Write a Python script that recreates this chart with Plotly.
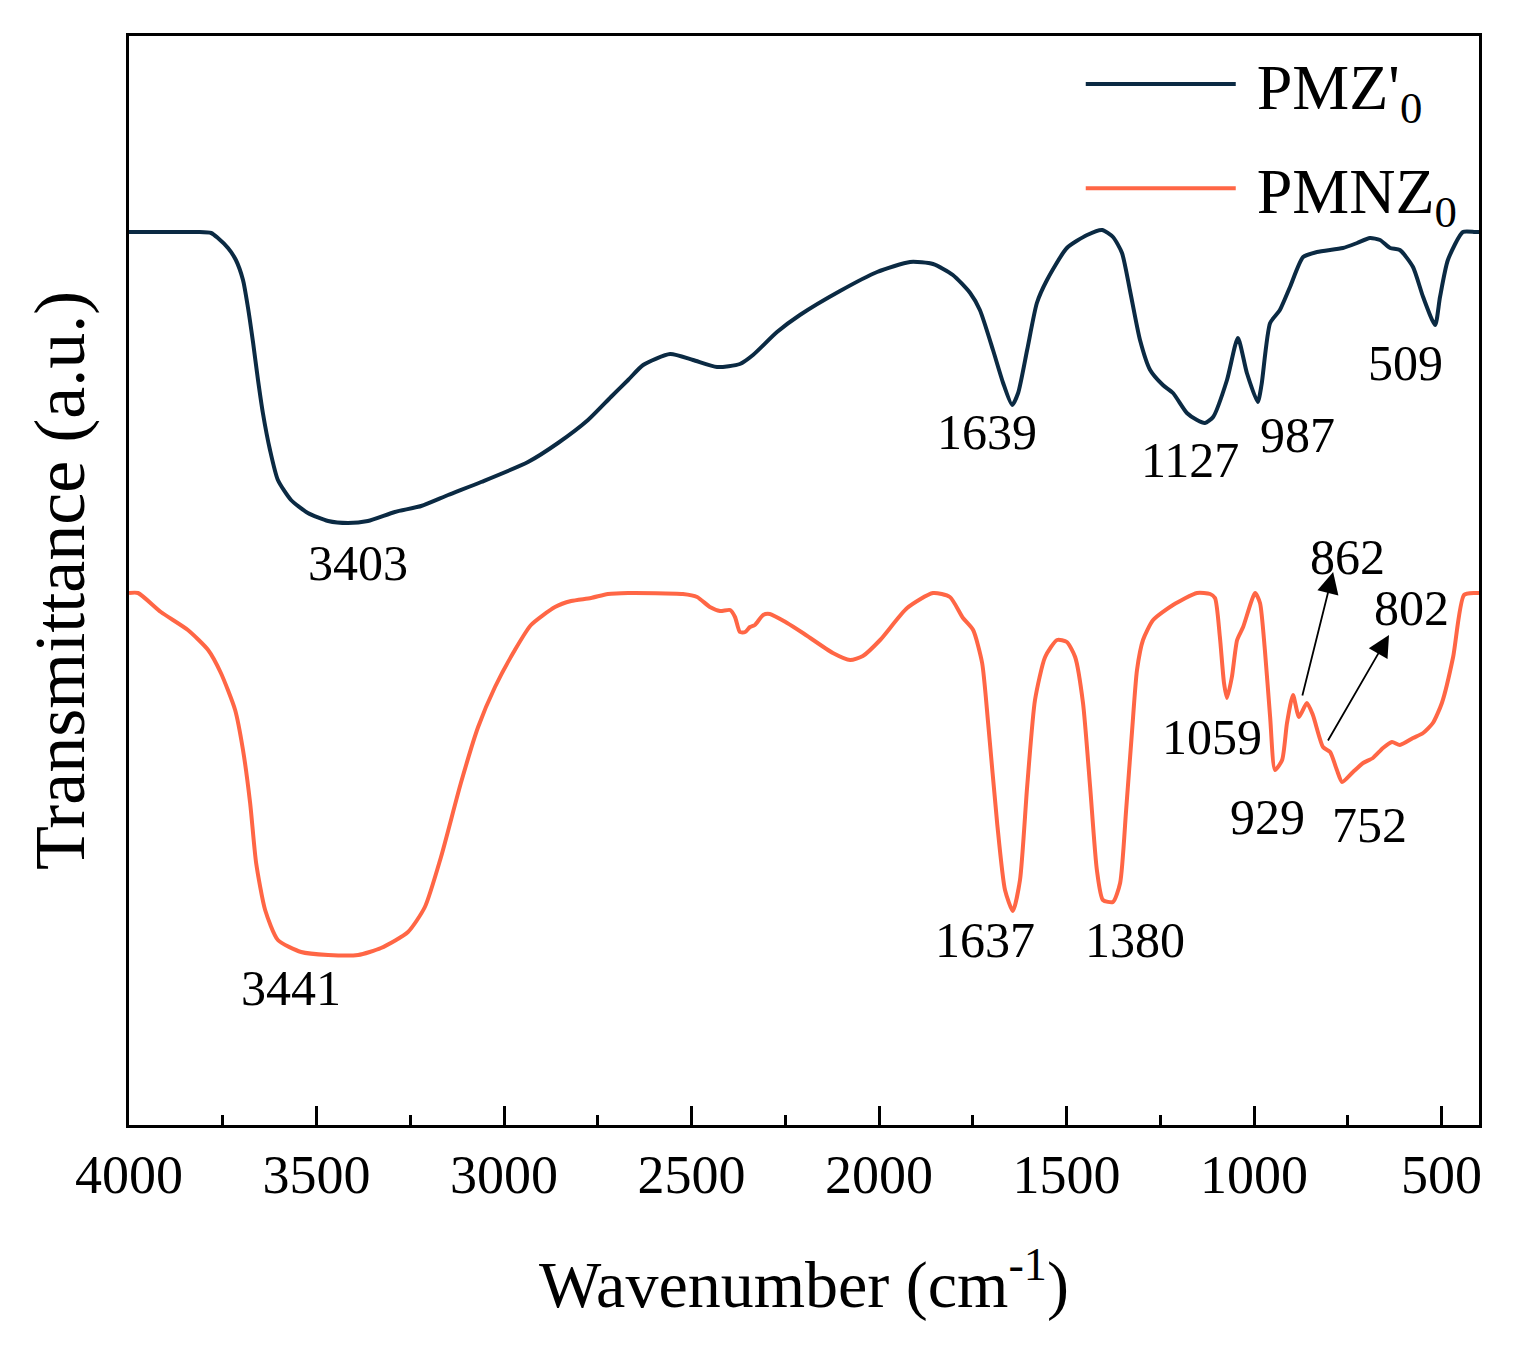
import plotly.graph_objects as go

# FTIR spectra, transmittance in arbitrary units
wn_pmz = [4000, 3936, 3869, 3816, 3781, 3763, 3736, 3715, 3696, 3683, 3669, 3656, 3643, 3624,
          3603, 3568, 3523, 3469, 3416, 3363, 3291, 3221, 3149, 3061, 2936, 2856, 2776, 2715,
          2669, 2629, 2557, 2496, 2432, 2371, 2336, 2272, 2211, 2104, 2005, 1917, 1856, 1803,
          1757, 1731, 1696, 1669, 1645, 1629, 1605, 1579, 1552, 1499, 1445, 1405, 1376, 1352,
          1331, 1304, 1277, 1243, 1216, 1179, 1152, 1131, 1109, 1072, 1043, 1019, 990, 980,
          957, 931, 904, 869, 832, 763, 725, 691, 664, 637, 611, 576, 549, 517, 504, 483,
          443, 411, 400]
t_pmz = [893, 893, 893, 893, 892, 887, 877, 865, 845, 818, 782, 745, 712, 675,
         645, 625, 612, 604, 602, 604, 613, 619, 630, 643, 663, 682, 705, 728,
         745, 760, 771, 765, 758, 761, 770, 793, 810, 834, 853, 863, 861, 850,
         832, 815, 775, 742, 720, 732, 775, 822, 845, 877, 890, 895, 888, 872,
         835, 785, 755, 740, 732, 712, 705, 702, 708, 745, 787, 752, 723, 740,
         802, 815, 838, 868, 873, 877, 882, 887, 885, 877, 875, 858, 828, 800, 828, 865,
         893, 893, 893]

wn_pmnz = [4000, 3976, 3915, 3843, 3789, 3755, 3717, 3696, 3677, 3661, 3637, 3603, 3541, 3469,
           3389, 3328, 3256, 3211, 3168, 3115, 3069, 3024, 2971, 2928, 2864, 2821, 2768, 2723,
           2669, 2523, 2485, 2451, 2424, 2397, 2384, 2371, 2357, 2344, 2331, 2309, 2291, 2245,
           2203, 2123, 2077, 2043, 1997, 1925, 1856, 1811, 1776, 1749, 1725, 1709, 1685, 1664,
           1643, 1624, 1605, 1584, 1557, 1525, 1499, 1477, 1456, 1437, 1419, 1403, 1376, 1357,
           1341, 1325, 1312, 1296, 1269, 1216, 1152, 1117, 1104, 1091, 1080, 1072, 1059, 1045,
           1029, 997, 984, 971, 957, 944, 925, 912, 896, 880, 859, 843, 816, 797, 779, 765,
           736, 709, 683, 656, 632, 611, 576, 549, 523, 499, 469, 440, 411, 400]
t_pmnz = [532, 532, 513, 495, 475, 452, 415, 375, 322, 262, 215, 185, 173, 170,
          170, 177, 193, 218, 268, 342, 398, 438, 475, 500, 518, 524, 527, 531,
          532, 531, 528, 518, 514, 515, 508, 493, 493, 498, 500, 510, 511, 502,
          492, 472, 465, 469, 485, 517, 532, 528, 507, 495, 462, 402, 302, 235,
          214, 245, 338, 425, 468, 485, 483, 468, 422, 338, 255, 225, 223, 242,
          315, 395, 455, 485, 505, 520, 532, 531, 527, 488, 442, 427, 448, 485,
          498, 532, 522, 475, 408, 355, 365, 402, 430, 408, 422, 410, 378, 373, 355, 343,
          353, 362, 367, 377, 383, 380, 387, 392, 402, 422, 468, 530, 532, 532]

# peak labels: text, x, y
peak_text = ["3403", "1639", "1127", "987", "509", "3441", "1637", "1380", "1059", "929", "752", "862", "802"]
peak_x = [3389, 1712, 1171, 883, 597, 3568, 1717, 1317, 1112, 965, 691, 752, 581]
peak_y = [562, 693, 665, 690, 762, 137, 185, 185, 388, 308, 300, 568, 517]

# arrows: head (x, y) and tail (x, y)
arrow_head_x = [789, 640]
arrow_head_y = [553, 490]
arrow_tail_x = [872, 805]
arrow_tail_y = [428, 383]

FONT = "Liberation Serif, Times New Roman, serif"
DARK = "#0B2A43"
ORANGE = "#FF6645"

fig = go.Figure()
fig.add_trace(go.Scatter(x=wn_pmz, y=t_pmz, mode="lines", name="\u00a0PMZ'<sub>0</sub>",
                         legendgroup="a",
                         line=dict(color=DARK, width=4, shape="spline", smoothing=0.6)))
fig.add_trace(go.Scatter(x=wn_pmnz, y=t_pmnz, mode="lines", name="\u00a0PMNZ<sub>0</sub>",
                         legendgroup="b",
                         line=dict(color=ORANGE, width=4, shape="spline", smoothing=0.6)))

for txt, x, y in zip(peak_text, peak_x, peak_y):
    fig.add_annotation(x=x, y=y, text=txt, showarrow=False,
                       font=dict(family=FONT, size=50, color="black"))

for hx, hy, tx, ty in zip(arrow_head_x, arrow_head_y, arrow_tail_x, arrow_tail_y):
    fig.add_annotation(x=hx, y=hy, ax=tx, ay=ty, axref="x", ayref="y", text="",
                       showarrow=True, arrowhead=2, arrowsize=2.4, arrowwidth=1.8,
                       arrowcolor="black")

fig.update_xaxes(
    range=[4000, 400], tickvals=[4000, 3500, 3000, 2500, 2000, 1500, 1000, 500],
    ticks="inside", ticklen=19, tickwidth=2.5, tickcolor="black",
    minor=dict(ticks="inside", ticklen=10, tickwidth=2.5, tickcolor="black",
               tickvals=[3750, 3250, 2750, 2250, 1750, 1250, 750]),
    showline=True, linewidth=3, linecolor="black", mirror=True,
    showgrid=False, zeroline=False,
    tickfont=dict(family=FONT, size=54, color="black"),
    title=dict(text="Wavenumber (cm<sup>-1</sup>)", font=dict(family=FONT, size=66, color="black"),
               standoff=58),
)
fig.update_yaxes(
    range=[0, 1089], showticklabels=False, ticks="",
    showline=True, linewidth=3, linecolor="black", mirror=True,
    showgrid=False, zeroline=False,
    title=dict(text="Transmittance (a.u.)", font=dict(family=FONT, size=72, color="black"),
               standoff=18),
)
fig.update_layout(
    width=1517, height=1346,
    margin=dict(l=121, r=46, t=28, b=229),
    plot_bgcolor="white", paper_bgcolor="white",
    font=dict(family=FONT, color="black"),
    legend=dict(x=0.705, y=1.0, xanchor="left", yanchor="top",
                font=dict(family=FONT, size=64, color="black"),
                itemwidth=150, tracegroupgap=18, bgcolor="rgba(0,0,0,0)"),
)
fig.write_html("out.html")
